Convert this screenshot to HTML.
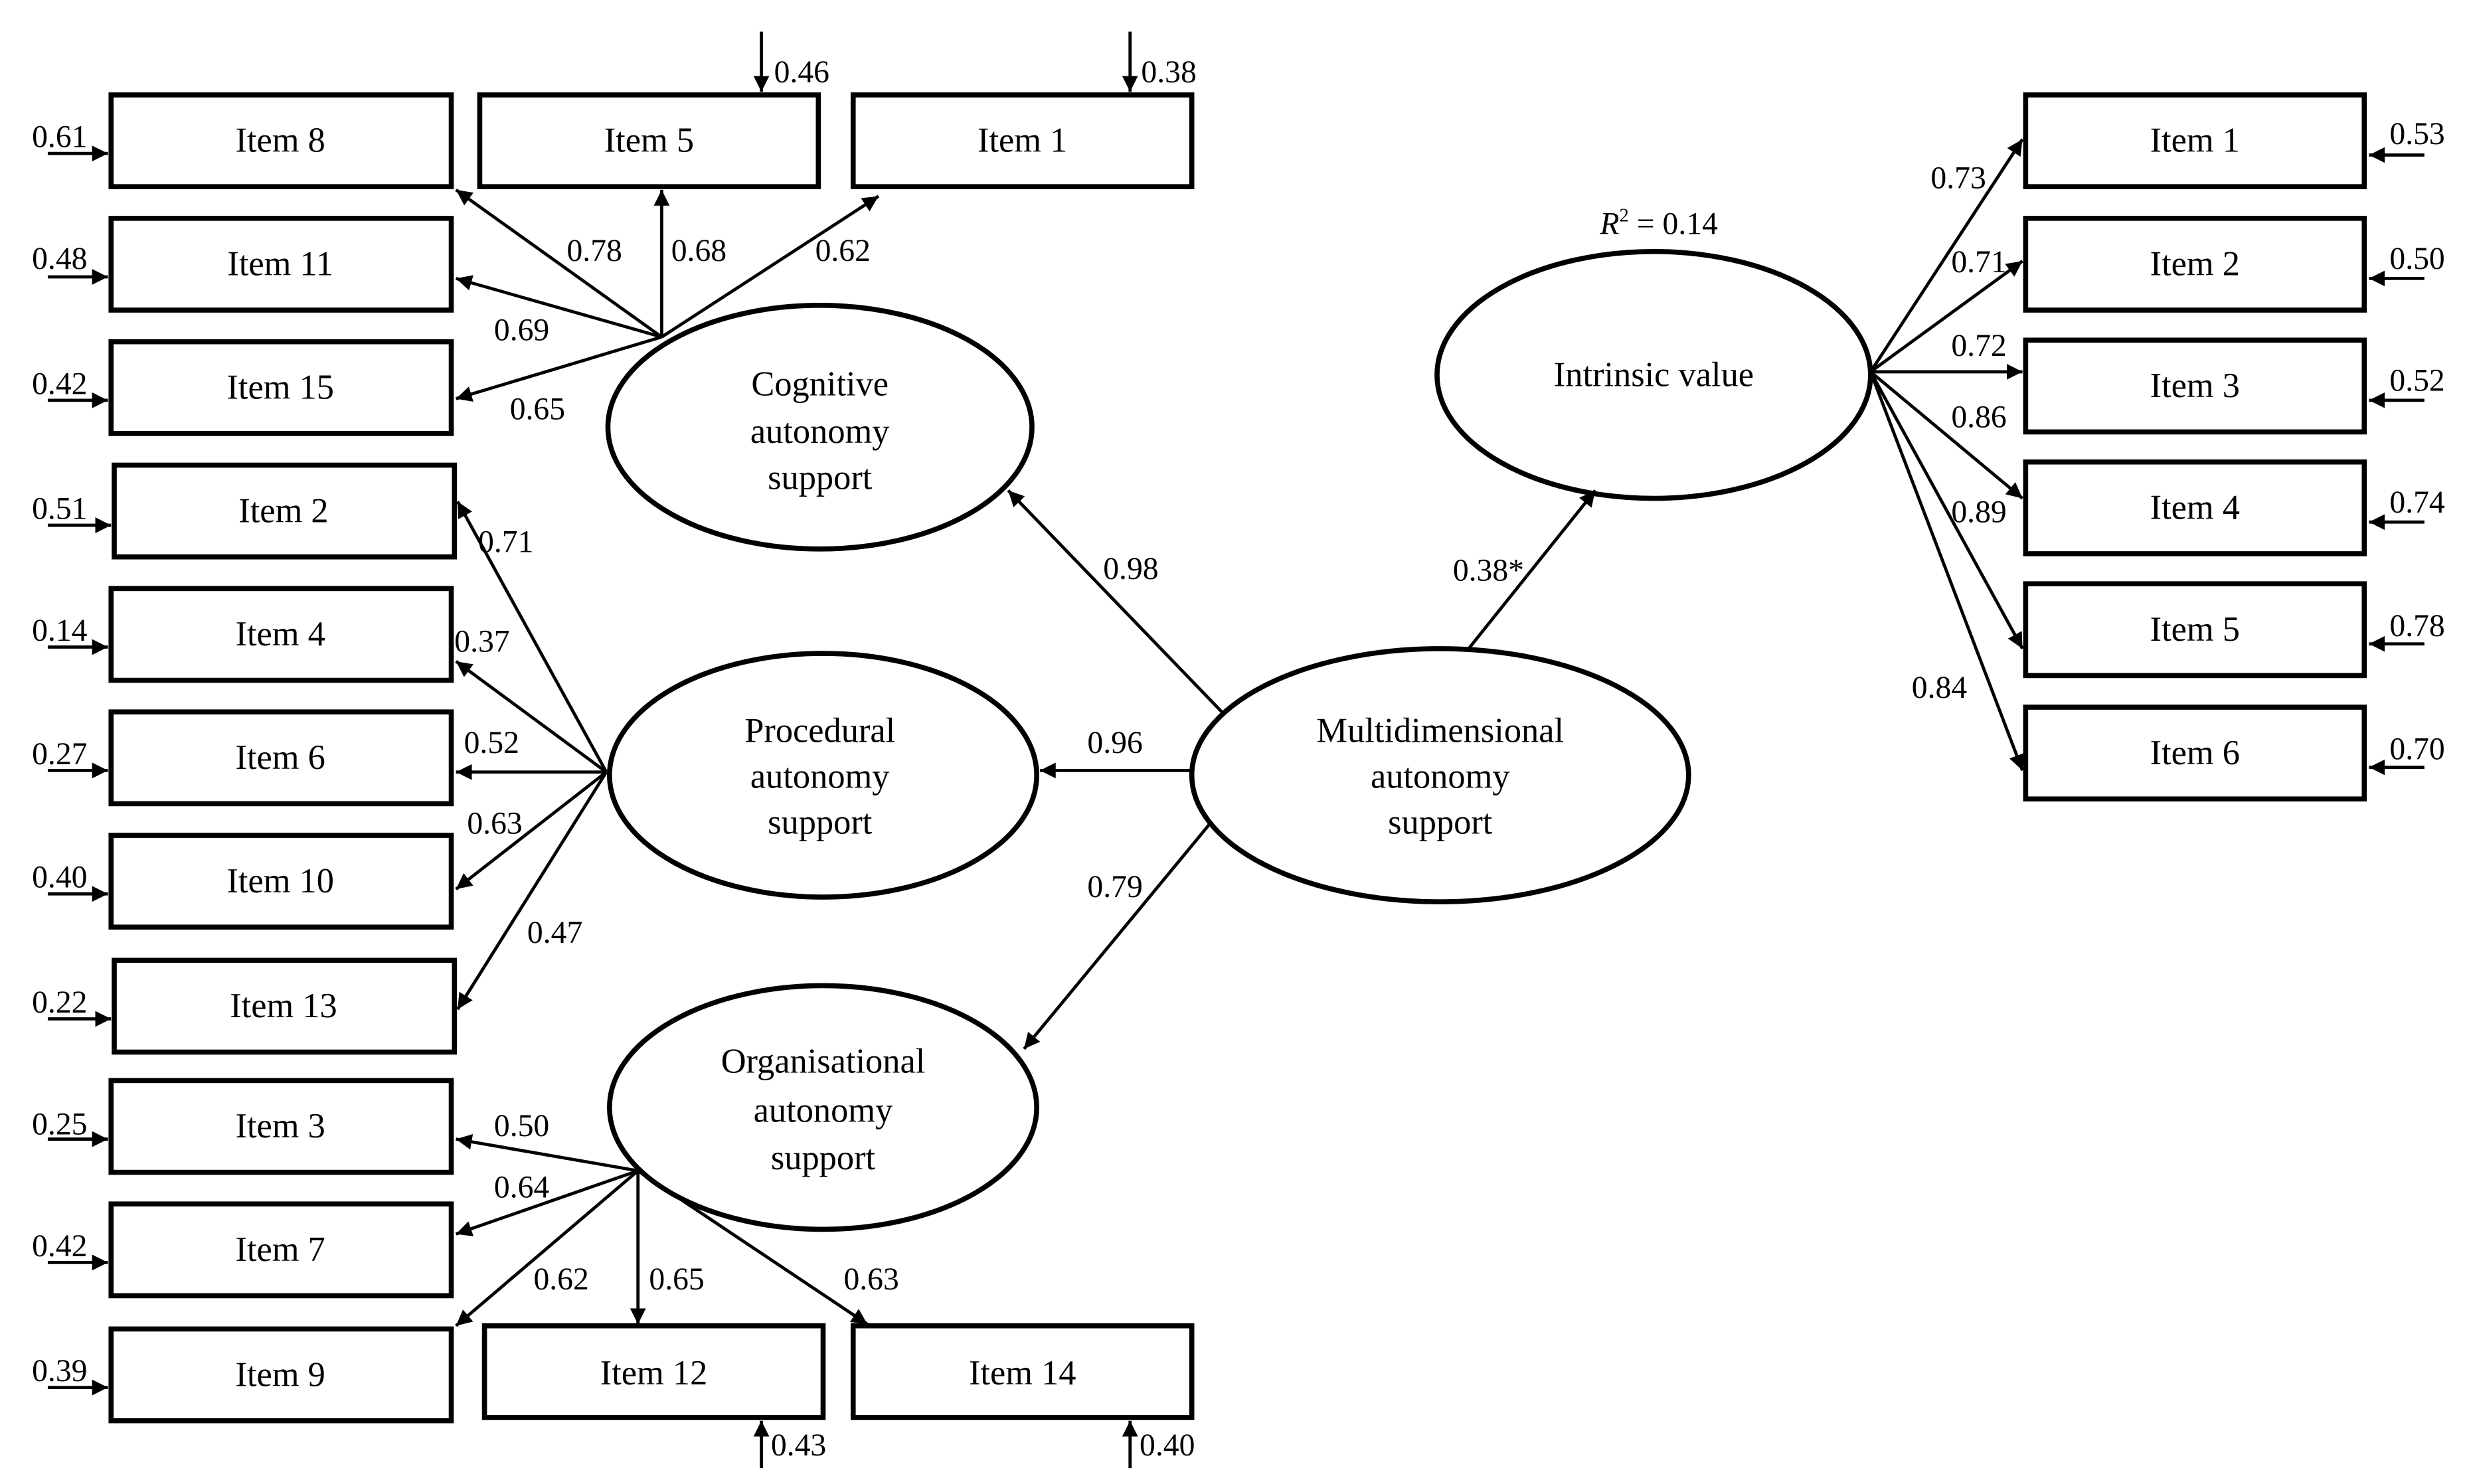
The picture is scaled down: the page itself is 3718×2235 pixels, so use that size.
<!DOCTYPE html>
<html><head><meta charset="utf-8"><style>html,body{margin:0;padding:0;background:#fff}svg{display:block}</style></head>
<body>
<svg width="3718" height="2235" viewBox="0 0 1560 938" xmlns="http://www.w3.org/2000/svg" font-family="Liberation Serif, serif" font-size="21">
<defs><marker id="a" viewBox="0 0 10 10" refX="10" refY="5" markerWidth="5" markerHeight="5" orient="auto"><path d="M0,0L10,5L0,10z" fill="#000"/></marker></defs>
<g fill="none" stroke="#000" stroke-width="3.2">
<rect x="70" y="60" width="215" height="58"/><rect x="70" y="138" width="215" height="58"/><rect x="70" y="216" width="215" height="58"/>
<rect x="72" y="294" width="215" height="58"/><rect x="70" y="372" width="215" height="58"/><rect x="70" y="450" width="215" height="58"/>
<rect x="70" y="528" width="215" height="58"/><rect x="72" y="607" width="215" height="58"/><rect x="70" y="683" width="215" height="58"/>
<rect x="70" y="761" width="215" height="58"/><rect x="70" y="840" width="215" height="58"/>
<rect x="303" y="60" width="214" height="58"/><rect x="539" y="60" width="214" height="58"/>
<rect x="306" y="838" width="214" height="58"/><rect x="539" y="838" width="214" height="58"/>
<rect x="1280" y="60" width="214" height="58"/><rect x="1280" y="138" width="214" height="58"/><rect x="1280" y="215" width="214" height="58"/>
<rect x="1280" y="292" width="214" height="58"/><rect x="1280" y="369" width="214" height="58"/><rect x="1280" y="447" width="214" height="58"/>
<ellipse cx="518" cy="270" rx="134" ry="77"/><ellipse cx="520" cy="490" rx="135" ry="77"/><ellipse cx="520" cy="700" rx="135" ry="77"/>
<ellipse cx="910" cy="490" rx="157" ry="80"/><ellipse cx="1045" cy="237" rx="137" ry="78"/>
</g>
<g stroke="#000" stroke-width="2" marker-end="url(#a)">
<line x1="418" y1="213" x2="288" y2="120"/><line x1="418" y1="213" x2="418" y2="120"/><line x1="418" y1="213" x2="555" y2="124"/>
<line x1="418" y1="213" x2="288" y2="176"/><line x1="418" y1="213" x2="288" y2="252"/>
<line x1="383" y1="488" x2="289" y2="317"/><line x1="383" y1="488" x2="288" y2="418"/><line x1="383" y1="488" x2="288" y2="488"/>
<line x1="383" y1="488" x2="288" y2="562"/><line x1="383" y1="488" x2="289" y2="638"/>
<line x1="403" y1="740" x2="288" y2="720"/><line x1="403" y1="740" x2="288" y2="780"/><line x1="403" y1="740" x2="288" y2="838"/>
<line x1="403" y1="740" x2="403" y2="837"/><line x1="403" y1="740" x2="548" y2="837"/>
<line x1="772" y1="450" x2="637" y2="310"/><line x1="752" y1="487" x2="657" y2="487"/><line x1="765" y1="520" x2="647" y2="663"/>
<line x1="928" y1="410" x2="1008" y2="310"/>
<line x1="1182" y1="235" x2="1278" y2="88"/><line x1="1182" y1="235" x2="1278" y2="165"/><line x1="1182" y1="235" x2="1278" y2="235"/>
<line x1="1182" y1="235" x2="1278" y2="315"/><line x1="1182" y1="235" x2="1278" y2="410"/><line x1="1182" y1="235" x2="1278" y2="487"/>
<line x1="30" y1="97" x2="68" y2="97"/><line x1="30" y1="175" x2="68" y2="175"/><line x1="30" y1="253" x2="68" y2="253"/>
<line x1="30" y1="332" x2="70" y2="332"/><line x1="30" y1="409" x2="68" y2="409"/><line x1="30" y1="487" x2="68" y2="487"/>
<line x1="30" y1="565" x2="68" y2="565"/><line x1="30" y1="644" x2="70" y2="644"/><line x1="30" y1="720" x2="68" y2="720"/>
<line x1="30" y1="798" x2="68" y2="798"/><line x1="30" y1="877" x2="68" y2="877"/>
<line x1="481" y1="20" x2="481" y2="58"/><line x1="714" y1="20" x2="714" y2="58"/>
<line x1="481" y1="928" x2="481" y2="898"/><line x1="714" y1="928" x2="714" y2="898"/>
<line x1="1532" y1="98" x2="1497" y2="98"/><line x1="1532" y1="176" x2="1497" y2="176"/><line x1="1532" y1="253" x2="1497" y2="253"/>
<line x1="1532" y1="330" x2="1497" y2="330"/><line x1="1532" y1="407" x2="1497" y2="407"/><line x1="1532" y1="485" x2="1497" y2="485"/>
</g>
<g text-anchor="middle" font-size="22">
<text x="177" y="96">Item 8</text><text x="177" y="174">Item 11</text><text x="177" y="252">Item 15</text>
<text x="179" y="330">Item 2</text><text x="177" y="408">Item 4</text><text x="177" y="486">Item 6</text>
<text x="177" y="564">Item 10</text><text x="179" y="643">Item 13</text><text x="177" y="719">Item 3</text>
<text x="177" y="797">Item 7</text><text x="177" y="876">Item 9</text>
<text x="410" y="96">Item 5</text><text x="646" y="96">Item 1</text>
<text x="413" y="875">Item 12</text><text x="646" y="875">Item 14</text>
<text x="1387" y="96">Item 1</text><text x="1387" y="174">Item 2</text><text x="1387" y="251">Item 3</text>
<text x="1387" y="328">Item 4</text><text x="1387" y="405">Item 5</text><text x="1387" y="483">Item 6</text>
<text x="518" y="250">Cognitive</text><text x="518" y="280">autonomy</text><text x="518" y="309">support</text>
<text x="518" y="469">Procedural</text><text x="518" y="498">autonomy</text><text x="518" y="527">support</text>
<text x="520" y="678">Organisational</text><text x="520" y="709">autonomy</text><text x="520" y="739">support</text>
<text x="910" y="469">Multidimensional</text><text x="910" y="498">autonomy</text><text x="910" y="527">support</text>
<text x="1045" y="244">Intrinsic value</text>
</g>
<g font-size="20">
<text x="20" y="93">0.61</text><text x="20" y="170">0.48</text><text x="20" y="249">0.42</text><text x="20" y="328">0.51</text>
<text x="20" y="405">0.14</text><text x="20" y="483">0.27</text><text x="20" y="561">0.40</text><text x="20" y="640">0.22</text>
<text x="20" y="717">0.25</text><text x="20" y="794">0.42</text><text x="20" y="873">0.39</text>
<text x="489" y="52">0.46</text><text x="721" y="52">0.38</text>
<text x="487" y="920">0.43</text><text x="720" y="920">0.40</text>
<text x="1510" y="91">0.53</text><text x="1510" y="170">0.50</text><text x="1510" y="247">0.52</text>
<text x="1510" y="324">0.74</text><text x="1510" y="402">0.78</text><text x="1510" y="480">0.70</text>
<text x="358" y="165">0.78</text><text x="424" y="165">0.68</text><text x="515" y="165">0.62</text>
<text x="312" y="215">0.69</text><text x="322" y="265">0.65</text>
<text x="302" y="349">0.71</text><text x="287" y="412">0.37</text><text x="293" y="476">0.52</text>
<text x="295" y="527">0.63</text><text x="333" y="596">0.47</text>
<text x="312" y="718">0.50</text><text x="312" y="757">0.64</text><text x="337" y="815">0.62</text>
<text x="410" y="815">0.65</text><text x="533" y="815">0.63</text>
<text x="697" y="366">0.98</text><text x="687" y="476">0.96</text><text x="687" y="567">0.79</text>
<text x="918" y="367">0.38*</text>
<text x="1011" y="148"><tspan font-style="italic">R</tspan><tspan font-size="12" dy="-8">2</tspan><tspan dy="8"> = 0.14</tspan></text>
<text x="1220" y="119">0.73</text><text x="1233" y="172">0.71</text><text x="1233" y="225">0.72</text>
<text x="1233" y="270">0.86</text><text x="1233" y="330">0.89</text><text x="1208" y="441">0.84</text>
</g>
</svg>
</body></html>
